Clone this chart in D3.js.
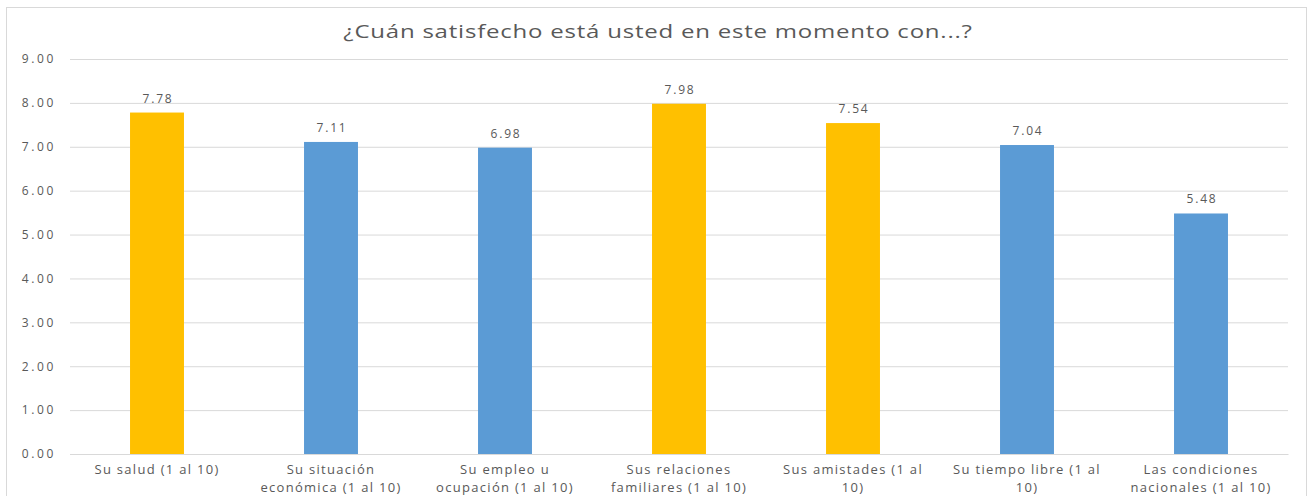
<!DOCTYPE html>
<html><head><meta charset="utf-8">
<script src="https://cdn.jsdelivr.net/npm/d3@7"></script>
<style>
html,body{margin:0;padding:0;background:#fff;}
text{font-family:"Open Sans",sans-serif;fill:#595959;}
</style></head>
<body>
<svg id="chart" width="1311" height="496"></svg>
<script>
const title = "¿Cuán satisfecho está usted en este momento con...?";
const categories = [
  ["Su salud (1 al 10)"],
  ["Su situación", "económica (1 al 10)"],
  ["Su empleo u", "ocupación (1 al 10)"],
  ["Sus relaciones", "familiares (1 al 10)"],
  ["Sus amistades (1 al", "10)"],
  ["Su tiempo libre (1 al", "10)"],
  ["Las condiciones", "nacionales (1 al 10)"]
];
const values = [7.78, 7.11, 6.98, 7.98, 7.54, 7.04, 5.48];
const highlighted = [true, false, false, true, true, false, false];
const yTicks = [0, 1, 2, 3, 4, 5, 6, 7, 8, 9];

(function () {
const svg = d3.select("#chart");
const mLeft = 70, mRight = 1288, mTop = 59, mBottom = 454;

svg.append("rect").attr("x", 6.5).attr("y", 7.5).attr("width", 1300).attr("height", 500)
  .attr("fill", "#fff").attr("stroke", "#d9d9d9");

const idx = categories.map((d, i) => i);
const x = d3.scaleBand().domain(idx).range([mLeft, mRight]).paddingInner(0.69).paddingOuter(0.345);
const y = d3.scaleLinear().domain([0, 9]).range([mBottom, mTop]);

const yAxis = d3.axisLeft(y).tickValues(yTicks).tickFormat(d3.format(".2f"))
  .tickSize(-(mRight - mLeft)).tickPadding(14);
const gy = svg.append("g").attr("transform", `translate(${mLeft},0)`).call(yAxis);
gy.select(".domain").remove();
gy.selectAll("line").attr("stroke", "#d9d9d9");
gy.selectAll("text").attr("font-size", 12).style("letter-spacing", "2.6px").attr("fill", "#595959");

svg.append("g").selectAll("rect").data(values).join("rect")
  .attr("x", (d, i) => x(i))
  .attr("y", d => y(d))
  .attr("width", x.bandwidth())
  .attr("height", d => mBottom - y(d))
  .attr("fill", (d, i) => highlighted[i] ? "#FFC000" : "#5B9BD5");

svg.append("g").selectAll("text").data(values).join("text")
  .attr("x", (d, i) => x(i) + x.bandwidth() / 2 + 1)
  .attr("y", d => y(d) - 10)
  .attr("text-anchor", "middle")
  .attr("font-size", 12)
  .style("letter-spacing", "1.8px")
  .text(d => d.toFixed(2));

const xAxis = d3.axisBottom(x).tickSize(0).tickFormat("");
const gx = svg.append("g").attr("transform", `translate(0,${mBottom})`).call(xAxis);
gx.select(".domain").attr("stroke", "#d9d9d9");
gx.selectAll(".tick").append("text")
  .attr("text-anchor", "middle")
  .attr("font-size", 13)
  .style("letter-spacing", "1.3px")
  .attr("fill", "#595959")
  .each(function(i) {
    const t = d3.select(this);
    categories[i].forEach((line, k) => {
      t.append("tspan").attr("x", 0).attr("y", 20 + k * 18).text(line);
    });
  });

const tg = svg.append("g");
const tt = tg.append("text").attr("x", 0).attr("y", 0).attr("text-anchor", "middle")
  .attr("font-size", 18.5).style("letter-spacing", "0.6px").text(title);
const natural = tt.node().getComputedTextLength();
const sx = 630 / natural;
tg.attr("transform", `translate(658,38) scale(${sx},1)`);
})();
</script>
</body></html>
